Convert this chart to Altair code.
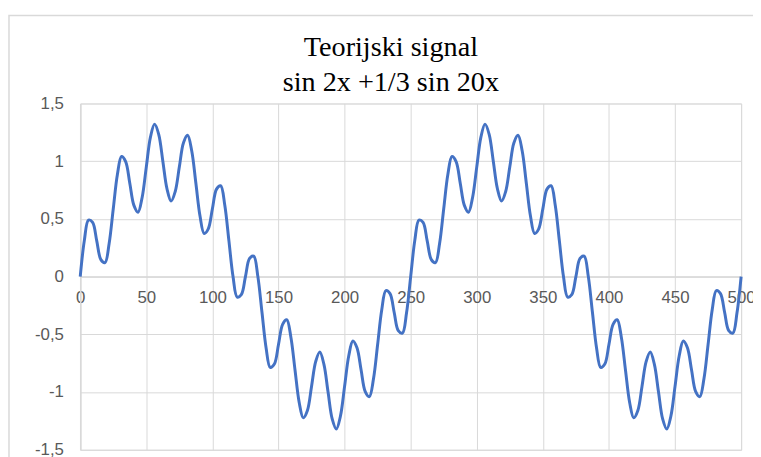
import altair as alt
import pandas as pd

# sample index positions (x) and read signal values (y) for one full period of the slow wave (0..250)
x_half = [0, 3.125, 6.25, 9.375, 12.5, 15.625, 18.75, 21.875, 25, 28.125,
          31.25, 34.375, 37.5, 40.625, 43.75, 46.875, 50, 53.125, 56.25, 59.375,
          62.5, 65.625, 68.75, 71.875, 75, 78.125, 81.25, 84.375, 87.5, 90.625,
          93.75, 96.875, 100, 103.125, 106.25, 109.375, 112.5, 115.625, 118.75, 121.875,
          125, 128.125, 131.25, 134.375, 137.5, 140.625, 143.75, 146.875, 150, 153.125,
          156.25, 159.375, 162.5, 165.625, 168.75, 171.875, 175, 178.125, 181.25, 184.375,
          187.5, 190.625, 193.75, 196.875, 200, 203.125, 206.25, 209.375, 212.5, 215.625,
          218.75, 221.875, 225, 228.125, 231.25, 234.375, 237.5, 240.625, 243.75, 246.875]
y_half = [0.000, 0.314, 0.490, 0.469, 0.309, 0.147, 0.121, 0.287, 0.588, 0.885,
          1.040, 0.996, 0.809, 0.617, 0.558, 0.688, 0.951, 1.208, 1.321, 1.233,
          1.000, 0.761, 0.654, 0.737, 0.951, 1.160, 1.224, 1.088, 0.809, 0.525,
          0.374, 0.414, 0.588, 0.758, 0.787, 0.618, 0.309, -0.002, -0.177, -0.157,
          0.000, 0.157, 0.177, 0.002, -0.309, -0.618, -0.787, -0.758, -0.588, -0.414,
          -0.374, -0.525, -0.809, -1.088, -1.224, -1.160, -0.951, -0.737, -0.654, -0.761,
          -1.000, -1.233, -1.321, -1.208, -0.951, -0.688, -0.558, -0.617, -0.809, -0.996,
          -1.040, -0.885, -0.588, -0.287, -0.121, -0.147, -0.309, -0.469, -0.490, -0.314]
# the second period (250..500) repeats the first one exactly in the picture
x_vals = x_half + [v + 250 for v in x_half] + [500]
y_vals = y_half + y_half + [0.000]

x_ticks = [0, 50, 100, 150, 200, 250, 300, 350, 400, 450, 500]
y_ticks = [-1.5, -1.0, -0.5, 0.0, 0.5, 1.0, 1.5]
title_lines = ["Teorijski signal", "sin 2x +1/3 sin 20x"]

df = pd.DataFrame({"x": x_vals, "y": y_vals})

GRID = "#D9D9D9"
LABEL = "#595959"

line = alt.Chart(df).mark_line(
    color="#4472C4", strokeWidth=3, interpolate="catmull-rom", clip=False
).encode(
    x=alt.X("x:Q", scale=alt.Scale(domain=[0, 500], nice=False),
            axis=alt.Axis(values=x_ticks, title=None, grid=True, gridColor=GRID,
                          domainColor=GRID, domainWidth=1.5, ticks=False,
                          labelColor=LABEL, labelFontSize=17, labelFont="Liberation Sans",
                          labelPadding=13, offset=-175, labelFlush=False,
                          labelOverlap=False)),
    y=alt.Y("y:Q", scale=alt.Scale(domain=[-1.5, 1.5], nice=False),
            axis=alt.Axis(values=y_ticks, title=None, grid=True, gridColor=GRID,
                          domainColor=GRID, domainWidth=1.5, ticks=False,
                          labelColor=LABEL, labelFontSize=17, labelFont="Liberation Sans",
                          labelPadding=17,
                          labelExpr="(datum.value < 0 ? '-' : '') + replace(format(abs(datum.value), '~g'), '.', ',')",
                          labelFlush=False, labelOverlap=False)),
)

frame = alt.Chart(pd.DataFrame({"a": [0]})).mark_rect(
    fill=None, stroke=GRID, strokeWidth=1.5, clip=False
).encode(
    x=alt.value(-72), x2=alt.value(760), y=alt.value(-89), y2=alt.value(460)
)

chart = alt.layer(frame, line).properties(
    width=668, height=350,
    autosize=alt.AutoSizeParams(type="none"),
    padding={"left": 73, "top": 94, "right": 12, "bottom": 20},
    title=alt.TitleParams(text=title_lines, font="Liberation Serif", fontSize=28.5,
                          fontWeight="normal", color="#000000", lineHeight=36,
                          anchor="middle", dx=-20, dy=87, offset=4),
).configure_view(stroke=None).configure(background="white")

chart.save("out.html", embed_options={"renderer": "svg", "actions": False})
